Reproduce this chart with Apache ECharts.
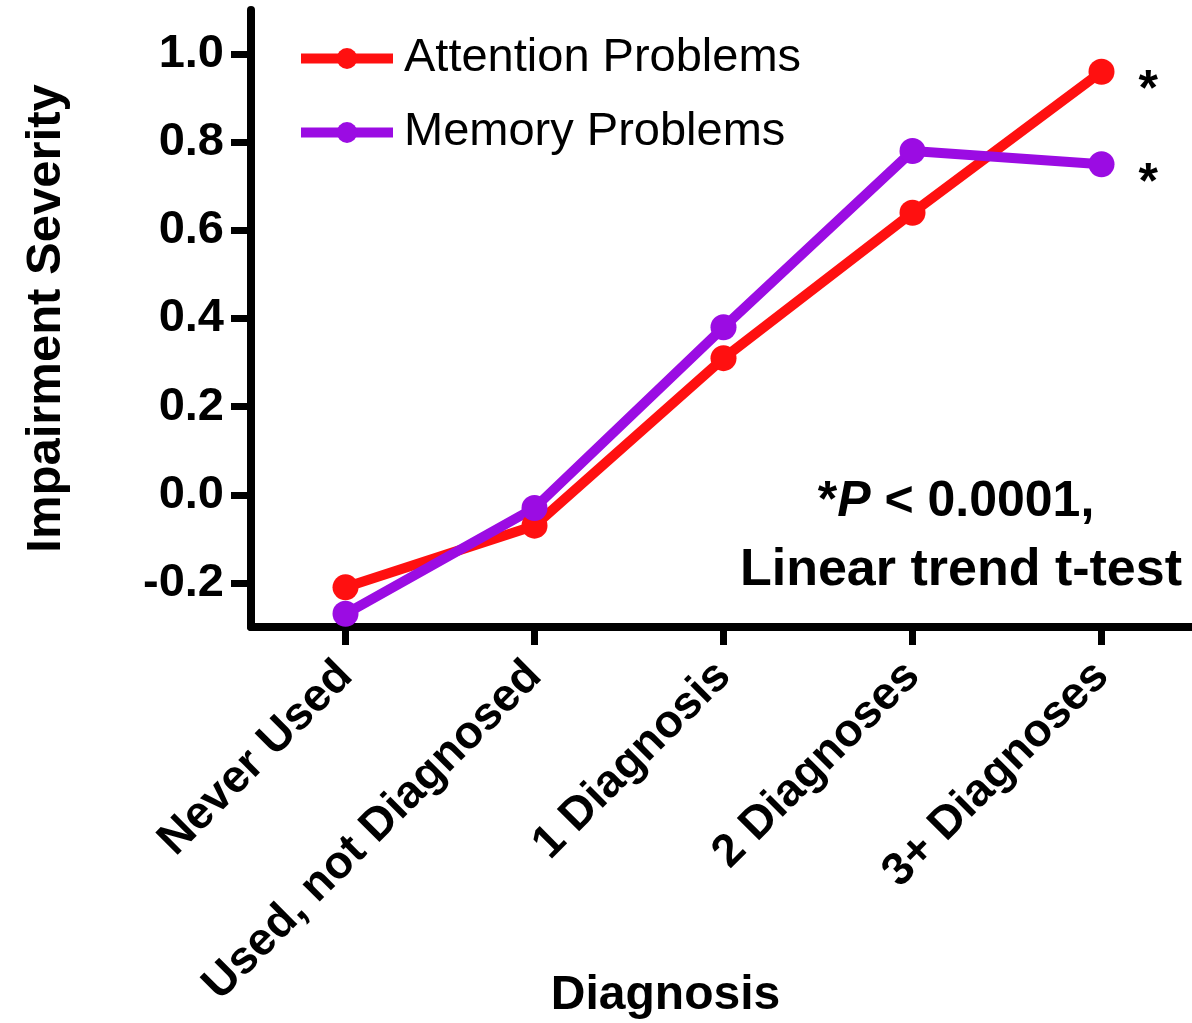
<!DOCTYPE html>
<html>
<head>
<meta charset="utf-8">
<script src="https://cdn.jsdelivr.net/npm/echarts@6/dist/echarts.min.js"></script>
<style>
html,body{margin:0;padding:0;background:#fff;}
#chart{width:1192px;height:1023px;}
</style>
</head>
<body>
<div id="chart"></div>
<script>
const categories = ['Never Used', 'Used, not Diagnosed', '1 Diagnosis', '2 Diagnoses', '3+ Diagnoses'];
const attention = [-0.21, -0.07, 0.31, 0.64, 0.96];
const memory = [-0.27, -0.03, 0.38, 0.78, 0.75];
const yTicks = [-0.2, 0.0, 0.2, 0.4, 0.6, 0.8, 1.0];
const seriesNames = ['Attention Problems', 'Memory Problems'];
const colors = ['#ff1010', '#9b0ce3'];

const FONT = '"Liberation Sans", Arial, Helvetica, sans-serif';

function withStar(arr) {
  return arr.map((v, i) => i === arr.length - 1 ? {
    value: v,
    label: {
      show: true, position: 'right', distance: 24, formatter: '*',
      fontSize: 50, fontWeight: 'bold', color: '#000', fontFamily: FONT,
      offset: [0, 20]
    }
  } : v);
}

const chart = echarts.init(document.getElementById('chart'), null, {renderer: 'canvas'});
chart.setOption({
  backgroundColor: '#fff',
  animation: false,
  grid: {left: 251, right: -4, top: 10, bottom: 396, containLabel: false, outerBoundsMode: 'none'},
  legend: {
    orient: 'vertical', left: 291, top: 30,
    itemWidth: 92, itemHeight: 26, itemGap: 27,
    lineStyle: {width: 10},
    textStyle: {fontSize: 47, color: '#000', fontFamily: FONT, padding: [0, 0, 0, 6]},
    data: seriesNames
  },
  xAxis: {
    type: 'category',
    data: categories,
    boundaryGap: true,
    name: 'Diagnosis',
    nameLocation: 'middle',
    nameGap: 345,
    nameMoveOverlap: false,
    nameTextStyle: {fontSize: 48, fontWeight: 'bold', color: '#000', fontFamily: FONT, padding: [0, 116, 0, 0]},
    axisLine: {show: true, onZero: false, lineStyle: {color: '#000', width: 8}},
    axisTick: {show: true, alignWithLabel: true, length: 18, lineStyle: {color: '#000', width: 7}},
    axisLabel: {interval: 0, rotate: 45, margin: 42, fontSize: 46, fontWeight: 'bold', color: '#000', fontFamily: FONT},
    splitLine: {show: false}
  },
  yAxis: {
    type: 'value',
    min: -0.3, max: 1.1,
    name: 'Impairment Severity',
    nameLocation: 'middle',
    nameGap: 180,
    nameMoveOverlap: false,
    nameTextStyle: {fontSize: 49, fontWeight: 'bold', color: '#000', fontFamily: FONT},
    axisLine: {show: true, lineStyle: {color: '#000', width: 8}},
    axisTick: {show: true, length: 20, customValues: yTicks, lineStyle: {color: '#000', width: 7}},
    axisLabel: {customValues: yTicks, margin: 27, fontSize: 47, fontWeight: 'bold', color: '#000', fontFamily: FONT,
      formatter: v => (Math.abs(v) < 1e-9 ? 0 : v).toFixed(1)},
    splitLine: {show: false}
  },
  series: [
    {
      name: seriesNames[0], type: 'line', data: withStar(attention),
      symbol: 'circle', symbolSize: 26,
      lineStyle: {width: 10, color: colors[0]},
      itemStyle: {color: colors[0]}
    },
    {
      name: seriesNames[1], type: 'line', data: withStar(memory),
      symbol: 'circle', symbolSize: 26,
      lineStyle: {width: 10, color: colors[1]},
      itemStyle: {color: colors[1]}
    }
  ],
  graphic: [
    {
      type: 'text', x: 956, y: 502,
      style: {
        text: '{s|*}{p|P}{n| < 0.0001,}',
        textAlign: 'center', textVerticalAlign: 'middle',
        rich: {
          s: {fontSize: 50, fontWeight: 'bold', fontFamily: FONT, fill: '#000', color: '#000'},
          p: {fontSize: 50, fontWeight: 'bold', fontStyle: 'italic', fontFamily: FONT, fill: '#000', color: '#000'},
          n: {fontSize: 50, fontWeight: 'bold', fontFamily: FONT, fill: '#000', color: '#000'}
        }
      }
    },
    {
      type: 'text', x: 961, y: 571,
      style: {
        text: 'Linear trend t-test',
        textAlign: 'center', textVerticalAlign: 'middle',
        font: 'bold 52px ' + FONT, fill: '#000'
      }
    }
  ]
});
</script>
</body>
</html>
